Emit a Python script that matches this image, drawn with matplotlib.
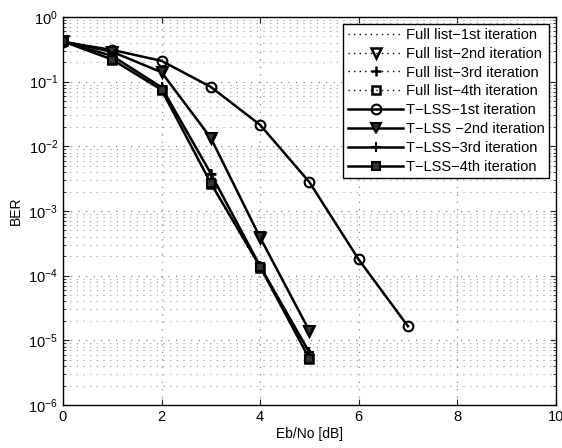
import numpy as np
import matplotlib
matplotlib.use("Agg")
import matplotlib.pyplot as plt
from matplotlib.ticker import MultipleLocator, LogLocator, NullFormatter

plt.rcParams['font.family'] = ['Liberation Sans', 'DejaVu Sans']

# Eb/No points [dB]
snr_7 = [0, 1, 2, 3, 4, 5, 6, 7]
snr_5 = [0, 1, 2, 3, 4, 5]

# BER values
full_1st = [0.41, 0.31, 0.21, 0.083, 0.0215, 0.0028, 1.78e-4, 1.65e-5]
full_2nd = [0.42, 0.29, 0.14, 0.0135, 3.8e-4, 1.4e-5]
full_3rd = [0.42, 0.25, 0.080, 0.0037, 1.35e-4, 6.2e-6]
full_4th = [0.42, 0.22, 0.074, 0.0026, 1.3e-4, 5.2e-6]

tlss_1st = [0.41, 0.31, 0.21, 0.083, 0.0215, 0.0028, 1.78e-4, 1.65e-5]
tlss_2nd = [0.42, 0.29, 0.14, 0.0135, 3.9e-4, 1.4e-5]
tlss_3rd = [0.42, 0.25, 0.082, 0.0038, 1.4e-4, 6.5e-6]
tlss_4th = [0.42, 0.22, 0.075, 0.0027, 1.38e-4, 5.2e-6]

labels = ['Full list\u22121st iteration', 'Full list\u22122nd iteration',
          'Full list\u22123rd iteration', 'Full list\u22124th iteration',
          'T\u2212LSS\u22121st iteration', 'T\u2212LSS \u22122nd iteration',
          'T\u2212LSS\u22123rd iteration', 'T\u2212LSS\u22124th iteration']

fig = plt.figure(figsize=(5.62, 4.48), dpi=100)
ax = fig.add_axes([0.112, 0.096, 0.877, 0.866])

dots = (0, (1, 3))

# full list curves: dotted, hollow markers
ax.semilogy(snr_7, full_1st, linestyle=dots, color='k', lw=1.0, label=labels[0])
ax.semilogy(snr_5, full_2nd, linestyle=dots, color='k', lw=1.0, marker='v', ms=7,
            mfc='none', mew=1.8, label=labels[1])
ax.semilogy(snr_5, full_3rd, linestyle=dots, color='k', lw=1.0, marker='+', ms=7,
            mew=1.8, label=labels[2])
ax.semilogy(snr_5, full_4th, linestyle=dots, color='k', lw=1.0, marker='s', ms=6,
            mfc='none', mew=1.8, label=labels[3])

# T-LSS curves: solid thick
ax.semilogy(snr_7, tlss_1st, '-', color='k', lw=1.8, marker='o', ms=7,
            mfc='none', mew=1.5, label=labels[4])
ax.semilogy(snr_5, tlss_2nd, '-', color='k', lw=1.8, marker='v', ms=7,
            mfc='#333333', mew=1.5, label=labels[5])
ax.semilogy(snr_5, tlss_3rd, '-', color='k', lw=1.8, marker='+', ms=7,
            mew=1.5, label=labels[6])
ax.semilogy(snr_5, tlss_4th, '-', color='k', lw=1.8, marker='s', ms=6,
            mfc='#333333', mew=1.5, label=labels[7])

ax.set_xlim(0, 10)
ax.set_ylim(1e-6, 1)
ax.xaxis.set_major_locator(MultipleLocator(2))
ax.yaxis.set_major_locator(LogLocator(base=10, numticks=10))
ax.yaxis.set_minor_locator(LogLocator(base=10, subs=np.arange(2, 10), numticks=20))
ax.yaxis.set_minor_formatter(NullFormatter())

grid_dots = (0, (1, 5))
ax.grid(True, which='major', linestyle=grid_dots, color='#888888', lw=0.9)
ax.grid(True, axis='y', which='minor', linestyle=grid_dots, color='#999999', lw=0.8)
ax.tick_params(which='both', direction='in', top=True, right=True, labelsize=10.5,
               color='#222222')
ax.tick_params(which='major', length=4)
ax.tick_params(which='minor', length=2)
for s in ax.spines.values():
    s.set_linewidth(1.0)

ax.set_xlabel('Eb/No [dB]', fontsize=10, labelpad=2)
ax.set_ylabel('BER', fontsize=10, labelpad=4)

leg = ax.legend(loc='upper right', fontsize=10.5, frameon=True, fancybox=False,
                edgecolor='k', framealpha=1, handlelength=3.8,
                borderaxespad=0.45, labelspacing=0.33, handletextpad=0.2,
                borderpad=0.3)
leg.get_frame().set_linewidth(1.0)

fig.savefig('out.png', dpi=100)
